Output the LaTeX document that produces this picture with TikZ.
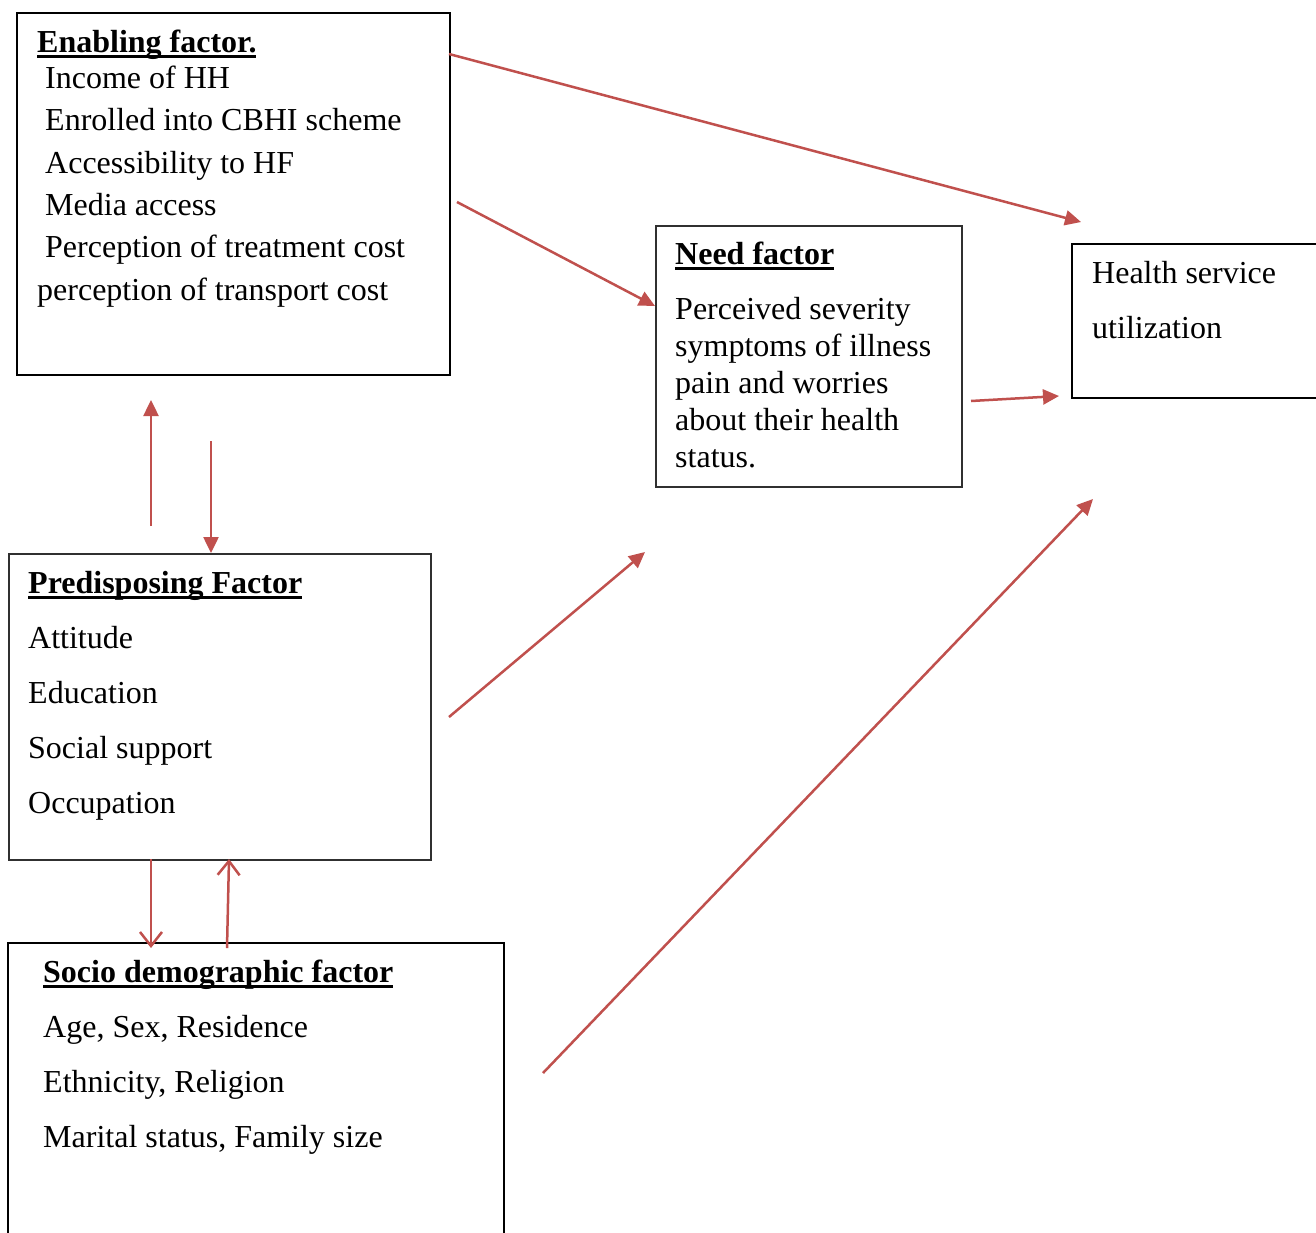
\documentclass[tikz,border=0pt]{standalone}
\usepackage{fontspec}
\setmainfont{Liberation Serif}
\usetikzlibrary{arrows.meta}
\definecolor{arrred}{HTML}{C0504D}
\definecolor{boxgray}{HTML}{303030}
\newcommand{\myul}[1]{\setbox0\hbox{#1}\rlap{\rule[-5.5pt]{\wd0}{2.8pt}}\box0}
\begin{document}
\begin{tikzpicture}[x=1pt,y=-1pt,
  box/.style={draw=black, line width=1.6pt, inner sep=0pt, anchor=north west},
  gbox/.style={box, draw=boxgray},
  txt/.style={anchor=base west, inner sep=0pt, font=\fontsize{32}{38}\selectfont},
  head/.style={txt, font=\fontsize{32}{38}\selectfont\bfseries},
  arr/.style={draw=arrred, line width=2.5pt, -{Triangle[length=16pt,width=15pt]}},
  oarr/.style={draw=arrred, line width=2.5pt, -{Straight Barb[length=14pt,width=22pt]}}]
\useasboundingbox (0,0) rectangle (1316,1232);
\clip (0,0) rectangle (1316,1232);
\fill[white] (0,0) rectangle (1316,1232);

% boxes
\node[box, minimum width=433pt, minimum height=362pt] (enab) at (16,12) {};
\node[gbox, minimum width=306pt, minimum height=261pt] (need) at (655,225) {};
\node[box, minimum width=300pt, minimum height=154pt] (hsu) at (1071,243) {};
\node[gbox, minimum width=422pt, minimum height=306pt] (pred) at (8,553) {};
\node[box, minimum width=496pt, minimum height=330pt] (socio) at (7,942) {};

% enabling text
\node[head] (enabh) at (37,52) {\myul{Enabling factor.}};
\node[txt] (e1) at (45,88) {Income of HH};
\node[txt] (e2) at (45,130) {Enrolled into CBHI scheme};
\node[txt] (e3) at (45,173) {Accessibility to HF};
\node[txt] (e4) at (45,215) {Media access};
\node[txt] (e5) at (45,257) {Perception of treatment cost};
\node[txt] (e6) at (37,300) {perception of transport cost};

% need text
\node[head] (needh) at (675,264) {\myul{Need factor}};
\node[txt] (n1) at (675,319) {Perceived severity};
\node[txt] (n2) at (675,356) {symptoms of illness};
\node[txt] (n3) at (675,393) {pain and worries};
\node[txt] (n4) at (675,430) {about their health};
\node[txt] (n5) at (675,467) {status.};

% health text
\node[txt] (h1) at (1092,283) {Health service};
\node[txt] (h2) at (1092,338) {utilization};

% predisposing text
\node[head] (predh) at (28,593) {\myul{Predisposing Factor}};
\node[txt] (p1) at (28,648) {Attitude};
\node[txt] (p2) at (28,703) {Education};
\node[txt] (p3) at (28,758) {Social support};
\node[txt] (p4) at (28,813) {Occupation};

% socio text
\node[head] (socioh) at (43,982) {\myul{Socio demographic factor}};
\node[txt] (s1) at (43,1037) {Age, Sex, Residence};
\node[txt] (s2) at (43,1092) {Ethnicity, Religion};
\node[txt] (s3) at (43,1147) {Marital status, Family size};

% arrow end points
\coordinate (a1s) at (449,54);
\coordinate (a1e) at (1081,222);
\coordinate (a2s) at (457,202);
\coordinate (a2e) at (655,306);
\coordinate (a3s) at (971,401);
\coordinate (a3e) at (1059,396);
\coordinate (a4s) at (151,526);
\coordinate (a4e) at (151,400);
\coordinate (a5s) at (211,441);
\coordinate (a5e) at (211,553);
\coordinate (a6s) at (449,717);
\coordinate (a6e) at (645,552);
\coordinate (a7s) at (543,1073);
\coordinate (a7e) at (1093,499);
\coordinate (a8s) at (151,859);
\coordinate (a8e) at (151,948);
\coordinate (a9s) at (227,948);
\coordinate (a9e) at (229,859);

\draw[arr] (a1s) -- (a1e);
\draw[arr] (a2s) -- (a2e);
\draw[arr] (a3s) -- (a3e);
\draw[arr] (a4s) -- (a4e);
\draw[arr] (a5s) -- (a5e);
\draw[arr] (a6s) -- (a6e);
\draw[arr] (a7s) -- (a7e);
\draw[oarr] (a8s) -- (a8e);
\draw[oarr] (a9s) -- (a9e);
\end{tikzpicture}
\end{document}
